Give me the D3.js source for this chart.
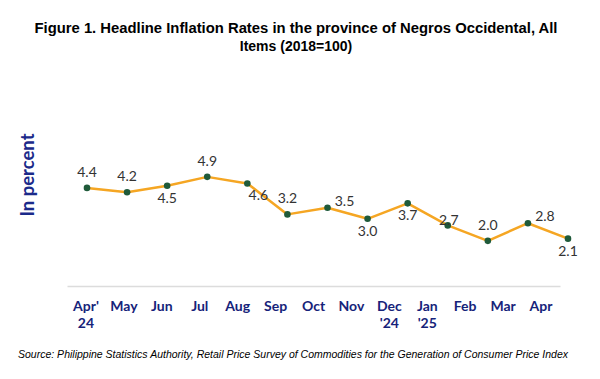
<!DOCTYPE html>
<html><head><meta charset="utf-8">
<script src="https://cdn.jsdelivr.net/npm/d3@7"></script>
<style>body{margin:0;background:#fff}svg{display:block}</style>
</head><body>
<svg id="c" width="600" height="379"></svg>
<script>
const months = ["Apr'|24","May","Jun","Jul","Aug","Sep","Oct","Nov","Dec|'24","Jan|'25","Feb","Mar","Apr"];
const rates = [4.4,4.2,4.5,4.9,4.6,3.2,3.5,3.0,3.7,2.7,2.0,2.8,2.1];
const labelPos = ["above","above","below","above","belowRight","above","right","below","below","onRight","above","right","below"];

const svg = d3.select("#c");
const keys = months.map((m,i)=>i);
const x = d3.scalePoint().domain(keys).range([87,568]);
const xAxisScale = d3.scaleBand().domain(keys).range([67,560]);
const y = d3.scaleLinear().domain([0,6]).range([285,152.6]);

// title
svg.append("text").attr("x",296).attr("y",33).attr("text-anchor","middle")
  .attr("font-family","Liberation Sans, Arial, sans-serif").attr("font-weight","bold").attr("font-size",14)
  .attr("textLength",523).attr("lengthAdjust","spacingAndGlyphs")
  .text("Figure 1. Headline Inflation Rates in the province of Negros Occidental, All");
svg.append("text").attr("x",296).attr("y",51).attr("text-anchor","middle")
  .attr("font-family","Liberation Sans, Arial, sans-serif").attr("font-weight","bold").attr("font-size",14)
  .text("Items (2018=100)");

// y label
svg.append("text").attr("transform","translate(34,175) rotate(-90)").attr("text-anchor","middle")
  .attr("font-family","Lato, Noto Sans, sans-serif").attr("font-weight","bold").attr("font-size",18.5)
  .attr("fill","#1b2a8a").text("In percent");

// axis
const ax = svg.append("g").attr("transform","translate(0,286)")
  .call(d3.axisBottom(xAxisScale).tickSize(0).tickFormat(""));
ax.select(".domain").attr("stroke","#dcdcdc").attr("stroke-width",1.5);
const tl = svg.append("g");
months.forEach((m,i)=>{
  const parts = m.split("|");
  const cx = xAxisScale(i)+xAxisScale.bandwidth()/2;
  const t = tl.append("text").attr("x",cx).attr("y",311)
    .attr("text-anchor","middle").attr("font-family","Lato, Noto Sans, sans-serif")
    .attr("font-weight","bold").attr("font-size",14).attr("fill","#16237a");
  parts.forEach((p,j)=>t.append("tspan").attr("x",cx).attr("dy",j?17:0).text(p));
});

// line
const line = d3.line().x((d,i)=>x(i)).y(d=>y(d));
svg.append("path").datum(rates).attr("d",line).attr("fill","none")
  .attr("stroke","#f5a623").attr("stroke-width",2.5).attr("stroke-linejoin","round");
svg.selectAll("circle.pt").data(rates).join("circle").attr("class","pt")
  .attr("cx",(d,i)=>x(i)).attr("cy",d=>y(d)).attr("r",3.3).attr("fill","#1f5a3a");

// labels
const off = {above:[0,-11],below:[0,17],belowRight:[11,17],right:[17,-2],onRight:[1,0]};
svg.selectAll("text.lbl").data(rates).join("text").attr("class","lbl")
  .attr("x",(d,i)=>x(i)+off[labelPos[i]][0]).attr("y",(d,i)=>y(d)+off[labelPos[i]][1])
  .attr("text-anchor","middle").attr("font-family","Lato, Noto Sans, sans-serif").attr("font-size",14)
  .attr("fill","#333").text(d=>d.toFixed(1));

// source
svg.append("text").attr("x",18).attr("y",358)
  .attr("font-family","Liberation Sans, Arial, sans-serif").attr("font-style","italic").attr("font-size",11)
  .attr("textLength",550).attr("lengthAdjust","spacingAndGlyphs")
  .text("Source: Philippine Statistics Authority, Retail Price Survey of Commodities for the Generation of Consumer Price Index");
</script>
</body></html>
